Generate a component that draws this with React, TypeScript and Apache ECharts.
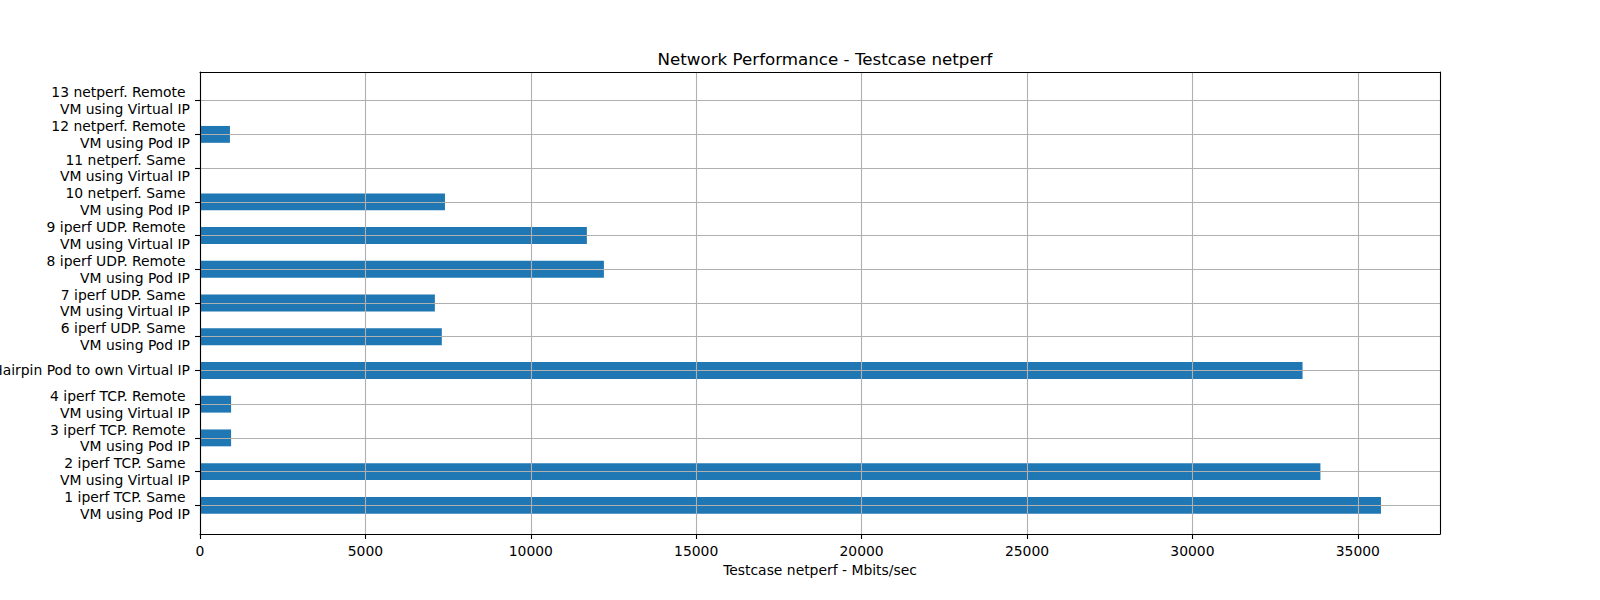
import React, { useEffect, useRef } from "react";
import * as echarts from "echarts";

const categories: string[] = [
  "1 iperf TCP. Same \nVM using Pod IP",
  "2 iperf TCP. Same \nVM using Virtual IP",
  "3 iperf TCP. Remote \nVM using Pod IP",
  "4 iperf TCP. Remote \nVM using Virtual IP",
  "5 iperf TCP. Hairpin Pod to own Virtual IP",
  "6 iperf UDP. Same \nVM using Pod IP",
  "7 iperf UDP. Same \nVM using Virtual IP",
  "8 iperf UDP. Remote \nVM using Pod IP",
  "9 iperf UDP. Remote \nVM using Virtual IP",
  "10 netperf. Same \nVM using Pod IP",
  "11 netperf. Same \nVM using Virtual IP",
  "12 netperf. Remote \nVM using Pod IP",
  "13 netperf. Remote \nVM using Virtual IP",
];

const throughput: number[] = [
  35700, 33870, 940, 940, 33330, 7310, 7100, 12210, 11695, 7405, 0, 905, 0,
];

const xTicks: number[] = [0, 5000, 10000, 15000, 20000, 25000, 30000, 35000];

const TITLE = "Network Performance - Testcase netperf";
const X_NAME = "Testcase netperf - Mbits/sec";

const FONT = "DejaVu Sans";
const FS = 13.9;

export default function App() {
  const ref = useRef<HTMLDivElement>(null);

  useEffect(() => {
    if (!ref.current) return;
    const chart = echarts.init(ref.current, null, { renderer: "svg" });
    const xMax = Math.max(...throughput) * 1.05;

    const L = 200;
    const T = 72;
    const W = 1240;
    const H = 462;
    const unit = H / (categories.length - 1 + 2 * 0.85);
    const pad = unit * 0.85;

    const frameAxis = {
      axisLine: { show: true, onZero: false, lineStyle: { color: "#000", width: 1.1 } },
      axisTick: { show: false },
      axisLabel: { show: false },
      splitLine: { show: false },
      z: 4,
    };

    chart.setOption({
      animation: false,
      backgroundColor: "#fff",
      title: {
        text: TITLE,
        left: L + W / 2,
        textAlign: "center",
        top: 45,
        textStyle: { fontFamily: FONT, fontSize: 16.7, fontWeight: "normal", color: "#000" },
      },
      grid: [
        { left: L, top: T, width: W, height: H, containLabel: false, outerBoundsMode: "none" },
        {
          left: L,
          top: T + pad,
          width: W,
          height: H - 2 * pad,
          containLabel: false,
          outerBoundsMode: "none",
        },
      ],
      xAxis: [
        {
          gridIndex: 0,
          type: "value",
          min: 0,
          max: xMax,
          position: "bottom",
          name: X_NAME,
          nameLocation: "middle",
          nameGap: 29,
          nameTextStyle: { fontFamily: FONT, fontSize: FS, color: "#000" },
          axisLine: { show: true, onZero: false, lineStyle: { color: "#000", width: 1.1 } },
          axisTick: {
            show: true,
            length: 5,
            customValues: xTicks,
            lineStyle: { color: "#000", width: 1.1 },
          },
          axisLabel: {
            show: true,
            customValues: xTicks,
            formatter: (v: number) => String(v),
            margin: 10,
            fontFamily: FONT,
            fontSize: FS,
            color: "#000",
          },
          splitLine: { show: true, lineStyle: { color: "#b0b0b0", width: 1.1 } },
          z: 3,
        },
        { gridIndex: 0, type: "value", min: 0, max: xMax, position: "top", ...frameAxis },
        { gridIndex: 1, type: "value", min: 0, max: xMax, show: false },
      ],
      yAxis: [
        { gridIndex: 0, type: "value", min: 0, max: 1, position: "left", ...frameAxis },
        { gridIndex: 0, type: "value", min: 0, max: 1, position: "right", ...frameAxis },
        {
          gridIndex: 1,
          type: "category",
          data: categories,
          boundaryGap: false,
          axisLine: { show: false },
          axisTick: { show: true, length: 5, lineStyle: { color: "#000", width: 1.1 } },
          axisLabel: {
            interval: 0,
            margin: 10,
            padding: [3, 0, 0, 0],
            fontFamily: FONT,
            fontSize: FS,
            lineHeight: 16.7,
            color: "#000",
            align: "right",
          },
          splitLine: { show: true, lineStyle: { color: "#b0b0b0", width: 1.1 } },
          z: 3,
        },
      ],
      series: [
        {
          type: "bar",
          xAxisIndex: 2,
          yAxisIndex: 2,
          data: throughput,
          barWidth: "50%",
          clip: false,
          itemStyle: { color: "#1f77b4" },
          z: 2,
        },
      ],
    });

    return () => chart.dispose();
  }, []);

  return (
    <div
      ref={ref}
      style={{ position: "absolute", left: 0, top: 0, width: 1600, height: 600 }}
    />
  );
}
